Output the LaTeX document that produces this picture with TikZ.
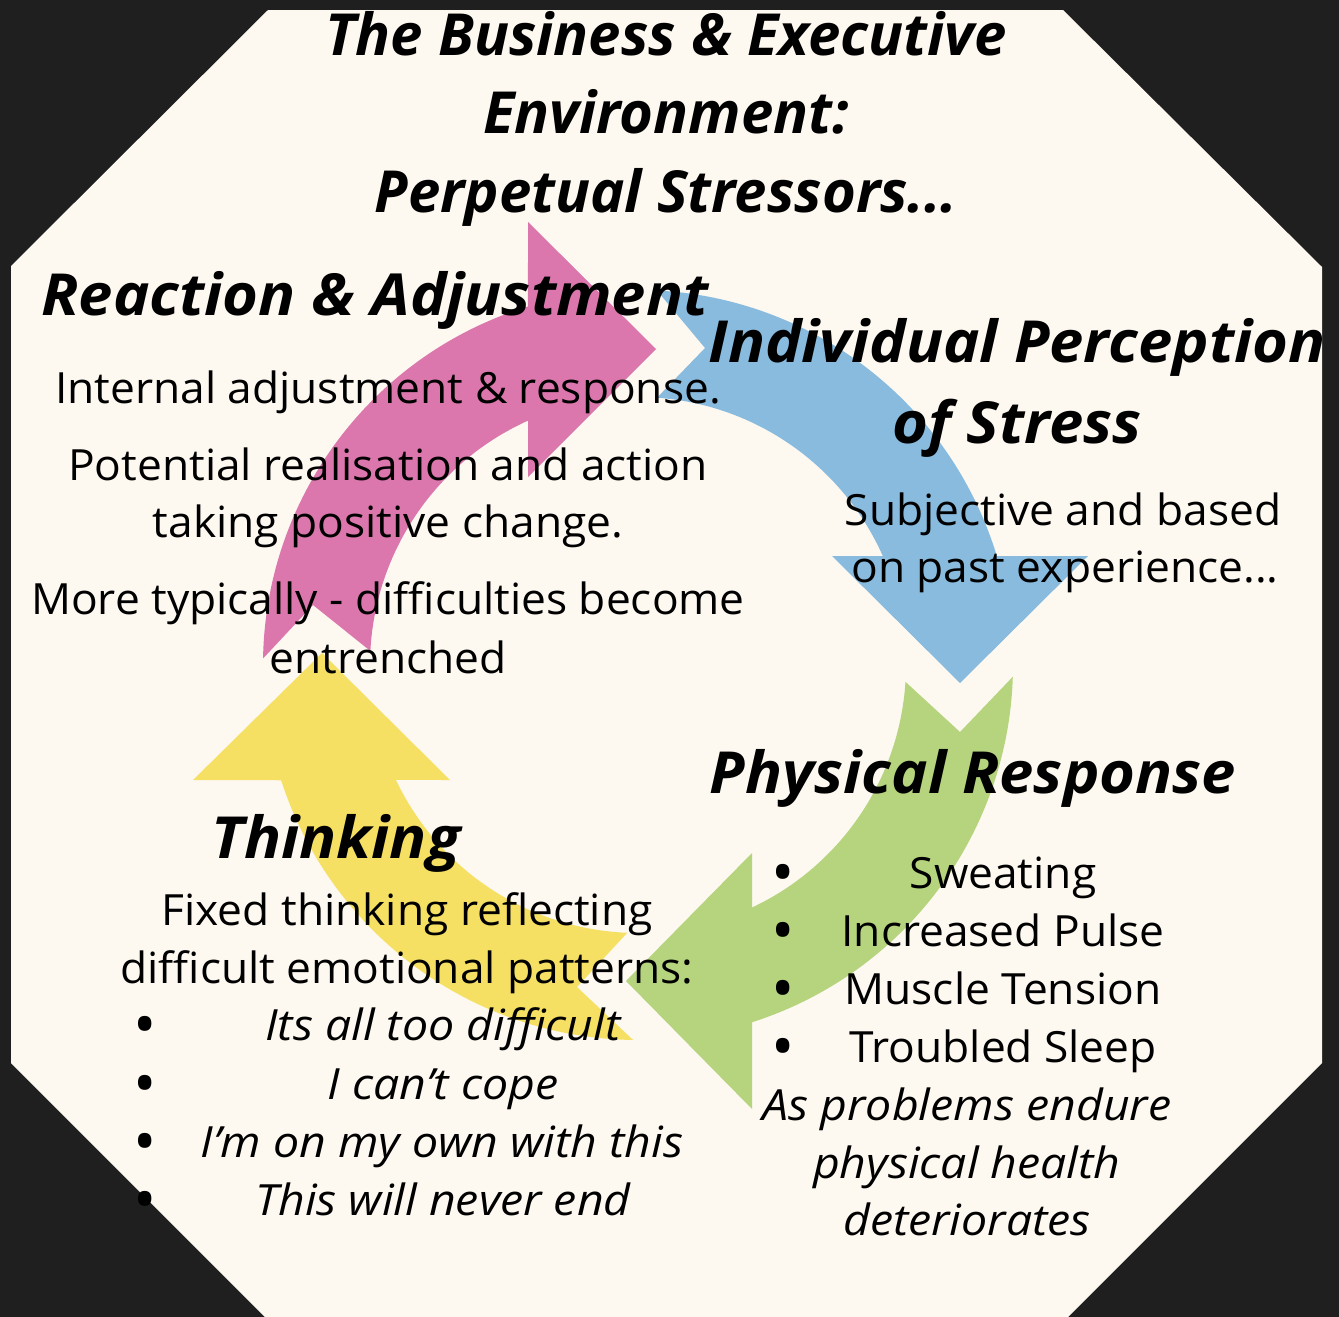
\documentclass[tikz,border=0pt]{standalone}
\usepackage{fontspec}
\setmainfont{Open Sans}[FakeStretch=1.03]
\newfontfamily\headfont{Open Sans}[FakeStretch=1.06]
\newfontfamily\titlefont{Open Sans}
\newfontfamily\itfont{Open Sans}[FakeStretch=1.08]
\definecolor{darkbg}{HTML}{1F1F1F}
\definecolor{cream}{HTML}{FDF8F0}
\definecolor{pinkc}{HTML}{DB77AD}
\definecolor{bluec}{HTML}{88BBDE}
\definecolor{greenc}{HTML}{B5D47D}
\definecolor{yellowc}{HTML}{F5E063}
\begin{document}
\begin{tikzpicture}[x=1pt,y=-1pt,
  titlet/.style={font=\titlefont\bfseries\itshape\fontsize{58}{60}\selectfont, anchor=base, inner sep=0pt},
  headt/.style={font=\headfont\bfseries\itshape\fontsize{58}{60}\selectfont, anchor=base, inner sep=0pt},
  bodyt/.style={font=\fontsize{43}{45}\selectfont, anchor=base, inner sep=0pt},
  bodyi/.style={font=\itfont\itshape\fontsize{43}{45}\selectfont, anchor=base, inner sep=0pt},
  bul/.style={font=\titlefont\fontsize{62}{64}\selectfont, anchor=base, inner sep=0pt}]
\useasboundingbox (0,0) rectangle (1339,1317);
\fill[darkbg] (0,0) rectangle (1339,1317);
\fill[cream] (268,10) -- (1063,10) -- (1322,267) -- (1322,1063) -- (1068,1317) -- (265,1317) -- (11,1063) -- (11,266) -- cycle;

\begin{scope}[shift={(638,665)}]
\fill[pinkc] (181:375) arc[start angle=181, end angle=252.94, radius=375] -- (-110,-443) -- (18,-316) -- (-110,-188) -- (245.77:268) arc[start angle=245.77, end angle=183, radius=268] -- (-325,-60) -- cycle;
\fill[bluec] (272.9:375) arc[start angle=272.9, end angle=343.1, radius=375] -- (450,-109) -- (322,18) -- (194,-109) -- (336.0:268) arc[start angle=336.0, end angle=274.07, radius=268] -- (67,-317) -- cycle;
\fill[greenc] (1.8:375) arc[start angle=1.8, end angle=72.3, radius=375] -- (114,444) -- (-12,316) -- (114,188) -- (64.8:268) arc[start angle=64.8, end angle=3.6, radius=268] -- (322,67) -- cycle;
\fill[yellowc] (90.76:375) arc[start angle=90.76, end angle=162.1, radius=375] -- (-445,115) -- (-316,-12) -- (-188,115) -- (154.6:268) arc[start angle=154.6, end angle=92.3, radius=268] -- (-61,322) -- cycle;
\end{scope}

% title
\node[titlet] (t1) at (666,55) {The Business \& Executive};
\node[titlet] (t2) at (666,133) {Environment:};
\node[titlet] (t3) at (666,212) {Perpetual Stressors...};

% reaction
\node[headt] (r0) at (375,315) {Reaction \& Adjustment};
\node[bodyt] (r1) at (388,403) {Internal adjustment \& response.};
\node[bodyt] (r2) at (388,480) {Potential realisation and action};
\node[bodyt] (r3) at (388,537) {taking positive change.};
\node[bodyt] (r4) at (388,614) {More typically - difficulties become};
\node[bodyt] (r5) at (388,673) {entrenched};

% perception
\node[headt] (p0) at (1017,362) {Individual Perception};
\node[headt] (p1) at (1017,443) {of Stress};
\node[bodyt] (p2) at (1063,525) {Subjective and based};
\node[bodyt] (p3) at (1065,582) {on past experience...};

% physical
\node[headt] (g0) at (973,793) {Physical Response};
\node[bul] (gb1) at (783,894) {•};
\node[bul] (gb2) at (783,952) {•};
\node[bul] (gb3) at (783,1010) {•};
\node[bul] (gb4) at (783,1068) {•};
\node[bodyt] (g1) at (1003,888) {Sweating};
\node[bodyt] (g2) at (1003,946) {Increased Pulse};
\node[bodyt] (g3) at (1003,1004) {Muscle Tension};
\node[bodyt] (g4) at (1003,1062) {Troubled Sleep};
\node[bodyi] (g5) at (967,1120) {As problems endure};
\node[bodyi] (g6) at (967,1178) {physical health};
\node[bodyi] (g7) at (967,1235) {deteriorates};

% thinking
\node[headt] (y0) at (336,858) {Thinking};
\node[bodyt] (y1) at (407,925) {Fixed thinking reflecting};
\node[bodyt] (y2) at (407,983) {difficult emotional patterns:};
\node[bul] (yb1) at (145,1046) {•};
\node[bul] (yb2) at (145,1105) {•};
\node[bul] (yb3) at (145,1163) {•};
\node[bul] (yb4) at (145,1221) {•};
\node[bodyi] (y3) at (443,1040) {Its all too difficult};
\node[bodyi] (y4) at (443,1099) {I can’t cope};
\node[bodyi] (y5) at (442,1157) {I’m on my own with this};
\node[bodyi] (y6) at (443,1215) {This will never end};
\end{tikzpicture}
\end{document}
